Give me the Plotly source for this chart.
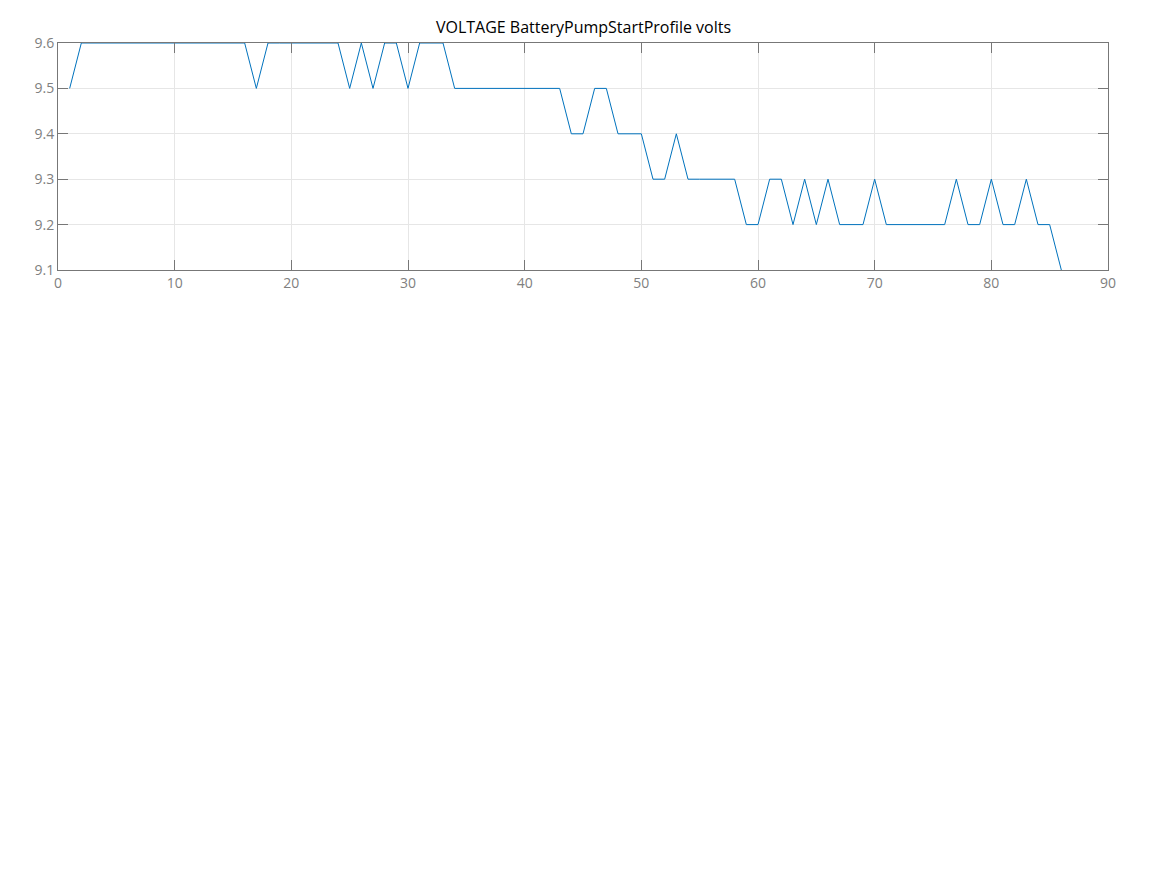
import plotly.graph_objects as go

# sample index and measured volts
sample = list(range(1, 87))
volts = [
    9.5, 9.6, 9.6, 9.6, 9.6, 9.6, 9.6, 9.6, 9.6, 9.6,
    9.6, 9.6, 9.6, 9.6, 9.6, 9.6, 9.5, 9.6, 9.6, 9.6,
    9.6, 9.6, 9.6, 9.6, 9.5, 9.6, 9.5, 9.6, 9.6, 9.5,
    9.6, 9.6, 9.6, 9.5, 9.5, 9.5, 9.5, 9.5, 9.5, 9.5,
    9.5, 9.5, 9.5, 9.4, 9.4, 9.5, 9.5, 9.4, 9.4, 9.4,
    9.3, 9.3, 9.4, 9.3, 9.3, 9.3, 9.3, 9.3, 9.2, 9.2,
    9.3, 9.3, 9.2, 9.3, 9.2, 9.3, 9.2, 9.2, 9.2, 9.3,
    9.2, 9.2, 9.2, 9.2, 9.2, 9.2, 9.3, 9.2, 9.2, 9.3,
    9.2, 9.2, 9.3, 9.2, 9.2, 9.1,
]

x_ticks = list(range(0, 91, 10))
y_ticks = [9.1, 9.2, 9.3, 9.4, 9.5, 9.6]

fig = go.Figure(
    go.Scatter(
        x=sample,
        y=volts,
        mode="lines",
        line={"color": "#0072BD", "width": 1},
        showlegend=False,
    )
)

axis_style = dict(
    showline=True,
    linecolor="#777777",
    linewidth=1,
    mirror="allticks",
    ticks="inside",
    ticklen=10,
    tickcolor="#777777",
    showgrid=True,
    gridcolor="#e6e6e6",
    zeroline=False,
    tickfont={"size": 14, "color": "#808080"},
)

fig.update_xaxes(range=[0, 90], tickvals=x_ticks, **axis_style)
fig.update_yaxes(range=[9.1, 9.6], tickvals=y_ticks, tickformat=".1f", **axis_style)

# page body adds 8px, so the figure is a bit smaller than the window
fig.update_layout(
    width=1151,
    height=859,
    title={
        "text": "VOLTAGE BatteryPumpStartProfile volts",
        "x": 0.5,
        "xanchor": "center",
        "y": 1 - 19 / 859,
        "yanchor": "middle",
        "font": {"size": 16, "color": "#000000"},
    },
    margin={"l": 50, "r": 51, "t": 35, "b": 597},
    paper_bgcolor="white",
    plot_bgcolor="white",
    font={"family": "Open Sans, sans-serif"},
)

fig.write_html("out.html")
